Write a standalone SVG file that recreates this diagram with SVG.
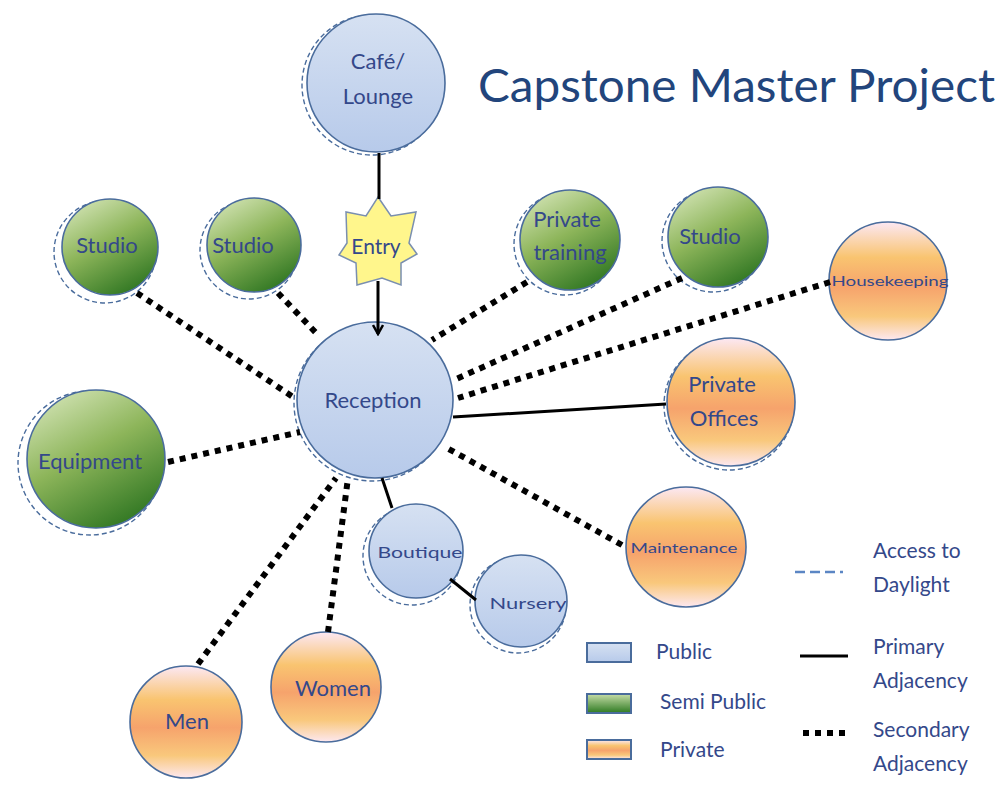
<svg xmlns="http://www.w3.org/2000/svg" width="1000" height="788" viewBox="0 0 1000 788">
<defs>
<linearGradient id="gBlue" x1="0" y1="0" x2="0" y2="1"><stop offset="0" stop-color="#D6E1F2"/><stop offset="1" stop-color="#B7CAEA"/></linearGradient>
<linearGradient id="gGreen" x1="0.2" y1="0" x2="0.75" y2="1"><stop offset="0" stop-color="#D2E3B4"/><stop offset="0.45" stop-color="#8DB55A"/><stop offset="1" stop-color="#2C7420"/></linearGradient>
<linearGradient id="gOrange" x1="0" y1="0" x2="0" y2="1"><stop offset="0" stop-color="#FCE8F4"/><stop offset="0.3" stop-color="#F9C470"/><stop offset="0.55" stop-color="#F6A36C"/><stop offset="0.8" stop-color="#F9C87C"/><stop offset="1" stop-color="#FDE8F0"/></linearGradient>
<linearGradient id="gGreenL" x1="0" y1="0" x2="0" y2="1"><stop offset="0" stop-color="#C6DDA8"/><stop offset="1" stop-color="#2E7A22"/></linearGradient>
<marker id="arr" viewBox="0 0 12 12" refX="10" refY="6" markerWidth="12" markerHeight="12" markerUnits="userSpaceOnUse" orient="auto"><path d="M1,1 L10,6 L1,11" fill="none" stroke="#000" stroke-width="2.5"/></marker>
</defs>
<style>
.pub{fill:url(#gBlue);stroke:#4A6C9C;stroke-width:1.6}
.semi{fill:url(#gGreen);stroke:#4A6C9C;stroke-width:1.6}
.priv{fill:url(#gOrange);stroke:#4A6C9C;stroke-width:1.6}
.day{fill:none;stroke:#4A6C9C;stroke-width:1.4;stroke-dasharray:5 3}
.lbl{font-family:Lato,"Open Sans",sans-serif;fill:#34488A;text-anchor:middle}
.leg{font-family:Lato,"Open Sans",sans-serif;fill:#34488A;font-size:21px}
.prim{stroke:#000;stroke-width:3;fill:none}
.sec{stroke:#000;stroke-width:6;stroke-dasharray:6 6;fill:none}
</style>

<text x="478" y="102" font-family="Lato,'Open Sans',sans-serif" font-size="46" fill="#22457C" textLength="517" lengthAdjust="spacingAndGlyphs">Capstone Master Project</text>

<g id="cafe">
<circle class="day" cx="372" cy="85" r="70"/>
<circle class="pub" cx="376" cy="83" r="69"/>
<text class="lbl" x="378" y="69" font-size="22">Café/</text>
<text class="lbl" x="378" y="104" font-size="22">Lounge</text>
</g>

<g id="entry">
<polygon points="378,197 391,216 416,212 409,243 417,254 401,263 401,285 382,278 357,285 356,263 339,255 347,243 346,212 366,216" fill="#FFF68C" stroke="#7A8FB0" stroke-width="1.5"/>
<text class="lbl" x="376" y="254" font-size="21">Entry</text>
</g>

<g id="reception">
<circle class="day" cx="372" cy="403" r="78"/>
<circle class="pub" cx="375" cy="400" r="78"/>
<text class="lbl" x="373" y="408" font-size="22">Reception</text>
</g>

<g id="studio1">
<circle class="day" cx="105" cy="252" r="51"/>
<circle class="semi" cx="110" cy="247" r="48"/>
<text class="lbl" x="107" y="253" font-size="22">Studio</text>
</g>

<g id="studio2">
<circle class="day" cx="249" cy="250" r="49"/>
<circle class="semi" cx="254" cy="245" r="47"/>
<text class="lbl" x="243" y="253" font-size="22">Studio</text>
</g>

<g id="private-training">
<circle class="day" cx="565" cy="244" r="51"/>
<circle class="semi" cx="570" cy="240" r="50"/>
<text class="lbl" x="567" y="227" font-size="22">Private</text>
<text class="lbl" x="570" y="260" font-size="22">training</text>
</g>

<g id="studio3">
<circle class="day" cx="713" cy="241" r="51"/>
<circle class="semi" cx="718" cy="237" r="50"/>
<text class="lbl" x="710" y="244" font-size="22">Studio</text>
</g>

<g id="housekeeping">
<circle class="priv" cx="888" cy="281" r="59"/>
<text class="lbl" x="890" y="286" font-size="14" textLength="117" lengthAdjust="spacingAndGlyphs">Housekeeping</text>
</g>

<g id="private-offices">
<circle class="day" cx="729" cy="405" r="65"/>
<circle class="priv" cx="731" cy="402" r="64"/>
<text class="lbl" x="722" y="392" font-size="22">Private</text>
<text class="lbl" x="724" y="426" font-size="22">Offices</text>
</g>

<g id="equipment">
<circle class="day" cx="90" cy="463" r="72"/>
<circle class="semi" cx="96" cy="459" r="69"/>
<text class="lbl" x="90" y="469" font-size="22">Equipment</text>
</g>

<g id="maintenance">
<circle class="priv" cx="686" cy="547" r="60"/>
<text class="lbl" x="684" y="553" font-size="14" textLength="107" lengthAdjust="spacingAndGlyphs">Maintenance</text>
</g>

<g id="boutique">
<circle class="day" cx="412" cy="556" r="49"/>
<circle class="pub" cx="416" cy="551" r="47"/>
<text class="lbl" x="420" y="558" font-size="15" textLength="85" lengthAdjust="spacingAndGlyphs">Boutique</text>
</g>

<g id="nursery">
<circle class="day" cx="518" cy="605" r="48"/>
<circle class="pub" cx="521" cy="601" r="46"/>
<text class="lbl" x="528" y="609" font-size="15" textLength="77" lengthAdjust="spacingAndGlyphs">Nursery</text>
</g>

<g id="men">
<circle class="priv" cx="186" cy="722" r="56"/>
<text class="lbl" x="187" y="729" font-size="22">Men</text>
</g>

<g id="women">
<circle class="priv" cx="326" cy="687" r="55"/>
<text class="lbl" x="333" y="696" font-size="22">Women</text>
</g>

<g id="connectors">
<line class="prim" x1="379" y1="153" x2="379" y2="199"/>
<line class="prim" x1="378" y1="281" x2="378" y2="334" marker-end="url(#arr)"/>
<line class="prim" x1="382" y1="478" x2="392" y2="508"/>
<line class="prim" x1="450" y1="579" x2="476" y2="600"/>
<line class="prim" x1="453" y1="417" x2="666" y2="404"/>
<line class="sec" x1="137" y1="293" x2="296" y2="399"/>
<line class="sec" x1="278" y1="293" x2="318" y2="335"/>
<line class="sec" x1="527" y1="282" x2="432" y2="340"/>
<line class="sec" x1="682" y1="278" x2="454" y2="380"/>
<line class="sec" x1="830" y1="282" x2="458" y2="398"/>
<line class="sec" x1="168" y1="462" x2="300" y2="432"/>
<line class="sec" x1="622" y1="545" x2="447" y2="448"/>
<line class="sec" x1="198" y1="664" x2="336" y2="478"/>
<line class="sec" x1="328" y1="632" x2="348" y2="478"/>
</g>

<g id="legend">
<rect x="587" y="643" width="44" height="19" fill="url(#gBlue)" stroke="#4A6C9C" stroke-width="2"/>
<rect x="587" y="694" width="44" height="19" fill="url(#gGreenL)" stroke="#4A6C9C" stroke-width="2"/>
<rect x="587" y="740" width="44" height="19" fill="url(#gOrange)" stroke="#4A6C9C" stroke-width="2"/>
<text class="leg" x="656" y="659">Public</text>
<text class="leg" x="660" y="709">Semi Public</text>
<text class="leg" x="660" y="757">Private</text>
<line x1="795" y1="572" x2="843" y2="572" stroke="#5B86C4" stroke-width="2.5" stroke-dasharray="10 5"/>
<line x1="800" y1="656" x2="848" y2="656" stroke="#000" stroke-width="3"/>
<line x1="803" y1="733" x2="849" y2="733" stroke="#000" stroke-width="6" stroke-dasharray="6 6"/>
<text class="leg" x="873" y="558">Access to</text>
<text class="leg" x="873" y="592">Daylight</text>
<text class="leg" x="873" y="654">Primary</text>
<text class="leg" x="873" y="688">Adjacency</text>
<text class="leg" x="873" y="737">Secondary</text>
<text class="leg" x="873" y="771">Adjacency</text>
</g>
</svg>
